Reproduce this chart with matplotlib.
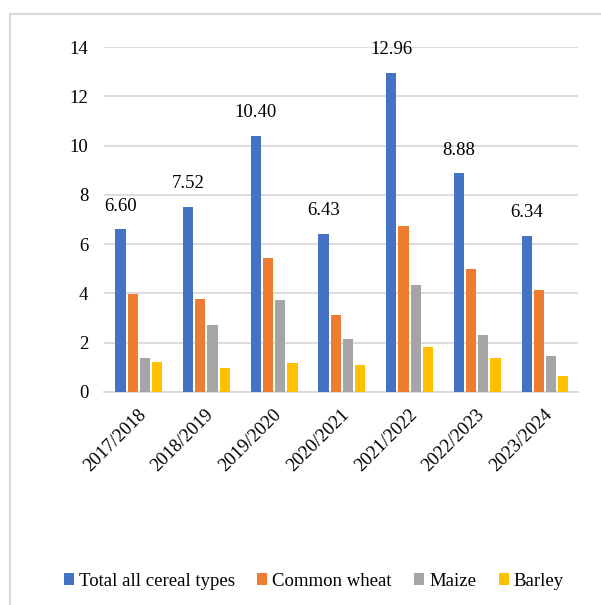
import numpy as np
import matplotlib
matplotlib.use("Agg")
import matplotlib.pyplot as plt
from matplotlib.patches import Rectangle

plt.rcParams['font.family'] = ['Liberation Serif', 'DejaVu Serif']

# datos
anios = ['2017/2018', '2018/2019', '2019/2020', '2020/2021',
         '2021/2022', '2022/2023', '2023/2024']
total = [6.60, 7.52, 10.40, 6.43, 12.96, 8.88, 6.34]
trigo = [3.97, 3.77, 5.43, 3.14, 6.73, 4.99, 4.13]
maiz = [1.37, 2.73, 3.75, 2.14, 4.36, 2.30, 1.48]
cebada = [1.22, 0.96, 1.19, 1.11, 1.84, 1.40, 0.65]

series = ['Total all cereal types', 'Common wheat', 'Maize', 'Barley']
colores = ['#4472C4', '#ED7D31', '#A5A5A5', '#FFC000']

fig = plt.figure(figsize=(6.01, 6.05), dpi=100)

# marco gris del grafico
fig.patches.append(Rectangle((9.5 / 601, -0.05), 1.0, 1 - 13.5 / 605 + 0.05,
                             transform=fig.transFigure, fill=False,
                             edgecolor='#d9d9d9', linewidth=1.5))

ax = fig.add_axes([103.5 / 601, 1 - 392 / 605, 474 / 601, 345 / 605])

x = np.arange(len(anios))
ancho = 0.15
paso = 0.18
datos = [total, trigo, maiz, cebada]
for i, (valores, nombre, color) in enumerate(zip(datos, series, colores)):
    barras = ax.bar(x + (i - 1.5) * paso + 0.02, valores, ancho, color=color,
                    label=nombre, zorder=3)
    if i == 0:
        for b, v in zip(barras, valores):
            ax.annotate('%.2f' % v, (b.get_x() + b.get_width() / 2, v),
                        xytext=(0, 10.5), textcoords='offset points',
                        ha='center', va='bottom', fontsize=13.5)

ax.set_xlim(-0.5, len(anios) - 0.5)
ax.set_ylim(0, 14)
ax.set_yticks(range(0, 15, 2))
ax.yaxis.grid(True, color='#d9d9d9', linewidth=1.3, zorder=0)
for lado in ['top', 'right', 'left']:
    ax.spines[lado].set_visible(False)
ax.spines['bottom'].set_color('#d9d9d9')
ax.spines['bottom'].set_linewidth(1.3)
ax.tick_params(length=0, labelsize=13.5, pad=11)
ax.set_xticks(x)
ax.set_xticklabels(anios, rotation=45, ha='right', rotation_mode='anchor')
ax.tick_params(axis='x', pad=10)

fig.legend(loc='center', bbox_to_anchor=(0.522, 1 - 581 / 605), ncol=4,
           frameon=False, fontsize=13.5, handlelength=0.55, handleheight=0.55,
           handletextpad=0.25, columnspacing=1.2)

fig.savefig('out.png', dpi=100)
